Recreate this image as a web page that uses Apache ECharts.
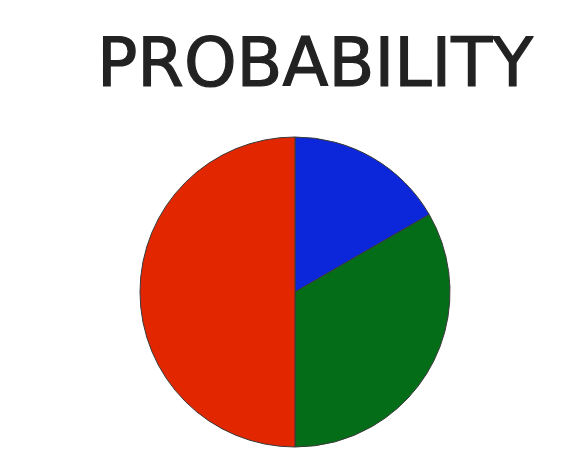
<!DOCTYPE html>
<html><head><meta charset="utf-8">
<script src="https://cdn.jsdelivr.net/npm/echarts@6/dist/echarts.min.js"></script>
<style>html,body{margin:0;padding:0;background:#fff}#c{width:586px;height:472px}</style>
</head><body><div id="c"></div>
<script>
const titleText = 'PROBABILITY';
const categories = ['Blue', 'Green', 'Red'];
const values = [1/6, 1/3, 1/2];
const colors = ['#0b27d9', '#046d17', '#e12600'];

const chart = echarts.init(document.getElementById('c'), null, {renderer: 'canvas'});
chart.setOption({
  animation: false,
  backgroundColor: '#ffffff',
  title: {
    text: titleText,
    left: 310, top: 30, textAlign: 'center',
    textStyle: {fontFamily: 'DejaVu Sans', fontSize: 67, fontWeight: 'normal', color: '#222222', lineHeight: 67,
      textBorderColor: '#222222', textBorderWidth: 1.2}
  },
  series: [{
    type: 'pie',
    center: [295, 292],
    radius: 155,
    startAngle: 90,
    clockwise: true,
    silent: true,
    label: {show: false},
    labelLine: {show: false},
    itemStyle: {borderColor: '#3a3a3a', borderWidth: 1},
    data: categories.map((c, i) => ({name: c, value: values[i], itemStyle: {color: colors[i]}}))
  }]
});
</script></body></html>
